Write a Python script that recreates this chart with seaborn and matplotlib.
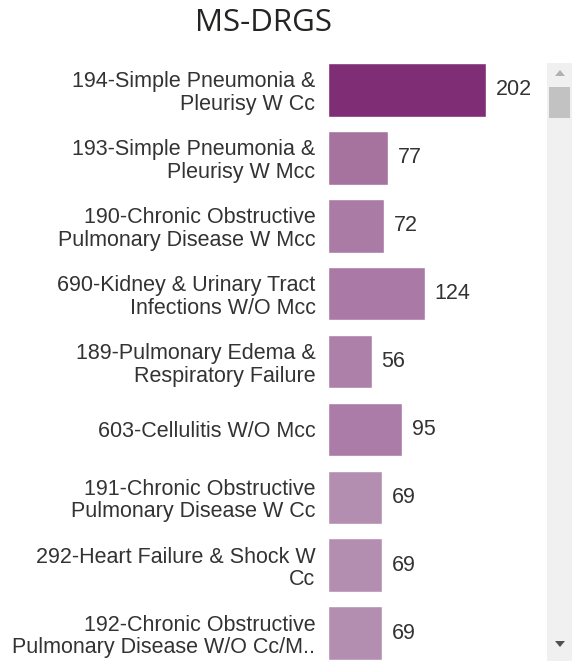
import matplotlib
matplotlib.use("Agg")
import matplotlib.pyplot as plt
import seaborn as sns
import pandas as pd
from matplotlib.patches import Rectangle, Polygon

categories = [
    "194-Simple Pneumonia &\nPleurisy W Cc",
    "193-Simple Pneumonia &\nPleurisy W Mcc",
    "190-Chronic Obstructive\nPulmonary Disease W Mcc",
    "690-Kidney & Urinary Tract\nInfections W/O Mcc",
    "189-Pulmonary Edema &\nRespiratory Failure",
    "603-Cellulitis W/O Mcc",
    "191-Chronic Obstructive\nPulmonary Disease W Cc",
    "292-Heart Failure & Shock W\nCc",
    "192-Chronic Obstructive\nPulmonary Disease W/O Cc/M..",
]
values = [202, 77, 72, 124, 56, 95, 69, 69, 69]
bar_colors = ["#7f2d74", "#a6739f", "#a97ba5", "#aa79a6", "#ad80a9",
              "#ab7ca8", "#b38eb1", "#b38eb1", "#b38eb1"]

df = pd.DataFrame({"category": categories, "value": values})

sns.set_style("white")
plt.rcParams["font.family"] = ["Liberation Sans", "DejaVu Sans"]

W, H = 572, 661
fig = plt.figure(figsize=(W / 100, H / 100), dpi=100)
ax = fig.add_axes([328 / W, 0.0, (545 - 328) / W, 1 - 56 / H])

sns.barplot(data=df, y="category", x="value", hue="category",
            palette=bar_colors, legend=False, orient="h",
            width=0.79, ax=ax, saturation=1)

ax.set_xlim(0, 277.5)
ax.set_ylim(8.41, -0.5)
for c in ax.containers:
    ax.bar_label(c, padding=7, fontsize=15.5, color="#333333")

ax.set_xticks([])
ax.set_xlabel("")
ax.set_ylabel("")
ax.tick_params(axis="y", length=0, pad=9, labelsize=15.5, labelcolor="#333333")
for lbl in ax.get_yticklabels():
    lbl.set_linespacing(1.1)
for s in ax.spines.values():
    s.set_visible(False)

fig.text(0.46, 1 - 23 / H, "MS-DRGS", ha="center", va="center",
         fontsize=22.5, color="#252423", family=["Open Sans", "DejaVu Sans"])

# scrollbar decoration
fig.patches.append(Rectangle((547 / W, 0), 25 / W, 1 - 63 / H,
                             transform=fig.transFigure, facecolor="#f0f0f0",
                             edgecolor="none", zorder=0))
fig.patches.append(Rectangle((549 / W, 1 - 118 / H), 21 / W, 31 / H,
                             transform=fig.transFigure, facecolor="#c2c2c2",
                             edgecolor="none"))
fig.patches.append(Polygon([(555 / W, 1 - 76 / H), (565 / W, 1 - 76 / H),
                            (560 / W, 1 - 70 / H)], closed=True,
                           transform=fig.transFigure, facecolor="#b0b0b0",
                           edgecolor="none"))
fig.patches.append(Polygon([(555 / W, 1 - 641 / H), (565 / W, 1 - 641 / H),
                            (560 / W, 1 - 647 / H)], closed=True,
                           transform=fig.transFigure, facecolor="#505050",
                           edgecolor="none"))

fig.savefig("out.png", dpi=100)
